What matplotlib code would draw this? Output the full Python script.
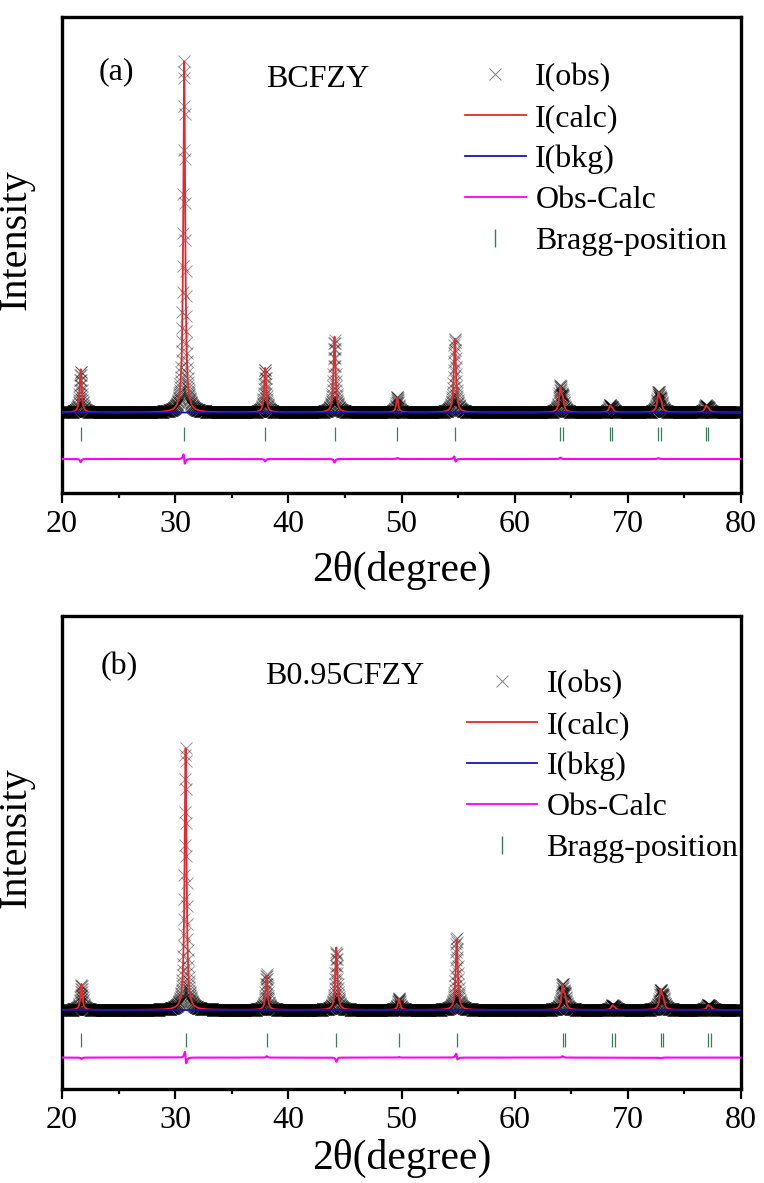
import numpy as np
import matplotlib
matplotlib.use('Agg')
import matplotlib.pyplot as plt
from matplotlib.lines import Line2D
from matplotlib.ticker import MultipleLocator

plt.rcParams['font.family'] = ['Liberation Serif', 'DejaVu Serif']

# ---------------- data ----------------
theta_min, theta_max, theta_step = 20.0, 80.0, 0.02

# panel (a) BCFZY
bragg_a = [21.65, 30.80, 37.95, 44.08, 49.63, 54.72, 64.03, 64.25,
           68.43, 68.63, 72.70, 72.92, 76.90, 77.12]
height_a = [1240, 10000, 1280, 2160, 410, 2100, 655, 328,
            177, 88, 505, 252, 177, 88]
fwhm_a = [0.20, 0.20, 0.20, 0.21, 0.22, 0.22, 0.24, 0.24,
          0.25, 0.25, 0.26, 0.26, 0.27, 0.27]
diff_sym_a = [-90, 0, -70, -100, 30, 0, 40, 0, 0, 0, 25, 0, 0, 0]
diff_asym_a = [0, 200, 0, 0, 0, 110, 0, 0, 0, 0, 0, 0, 0, 0]
bkg_a = 0.0
diff_offset_a = -1325
tick_lo_a, tick_hi_a = -809, -405
ylim_a = (-2293, 11282)

# panel (b) B0.95CFZY
bragg_b = [21.72, 30.92, 38.08, 44.24, 49.78, 54.88, 64.23, 64.45,
           68.63, 68.83, 72.90, 73.12, 77.10, 77.32]
height_b = [740, 7460, 970, 1780, 315, 2010, 640, 320,
            115, 58, 530, 265, 124, 62]
fwhm_b = fwhm_a
diff_sym_b = [-40, 0, 40, -120, 15, 40, 40, 0, 0, 0, -20, 0, 0, 0]
diff_asym_b = [0, 250, 0, 0, 0, 120, 0, 0, 0, 0, 0, 0, 0, 0]
bkg_b = 0.0
diff_offset_b = -1356
tick_lo_b, tick_hi_b = -1051, -647
ylim_b = (-2251, 11225)

labels_panel = ['(a)', '(b)']
sample_names = ['BCFZY', 'B0.95CFZY']
legend_labels = ['I(obs)', 'I(calc)', 'I(bkg)', 'Obs-Calc', 'Bragg-position']
xticks = [20, 30, 40, 50, 60, 70, 80]

C_RED = '#e8282c'
C_BLUE = '#1414b4'
C_MAG = '#ff00ff'
C_GREEN = '#3a7d58'


def pattern(pos, hgt, wid, dsym, dasym, bkg):
    x = np.arange(theta_min, theta_max + 1e-9, theta_step)
    calc = np.full_like(x, bkg)
    diff = np.zeros_like(x)
    for p, h, w, s, a in zip(pos, hgt, wid, dsym, dasym):
        u = (x - p) / (w / 2.0)
        lor = 1.0 / (1.0 + u ** 2)
        calc += h * lor
        diff += s * lor ** 1.5 - a * u * lor ** 2 * 2.0
    obs = calc + diff
    return x, obs, calc, np.full_like(x, bkg), diff


fig = plt.figure(figsize=(7.64, 11.83), dpi=100)
W, H = 764.0, 1183.0
ax_a = fig.add_axes([62 / W, (H - 493) / H, 679 / W, 476.5 / H])
ax_b = fig.add_axes([62 / W, (H - 1089) / H, 679 / W, 473 / H])

panels = [
    (ax_a, bragg_a, height_a, fwhm_a, diff_sym_a, diff_asym_a, bkg_a,
     diff_offset_a, tick_lo_a, tick_hi_a, ylim_a,
     (0.0795, 0.8835), (0.377, 0.867), (0.5935, 0.902), 1.9, 9),
    (ax_b, bragg_b, height_b, fwhm_b, diff_sym_b, diff_asym_b, bkg_b,
     diff_offset_b, tick_lo_b, tick_hi_b, ylim_b,
     (0.084, 0.894), (0.417, 0.873), (0.596, 0.886), 2.2, 3),
]

for i, (ax, pos, hgt, wid, dsym, dasym, bkg, doff, tlo, thi, ylim,
        lab_xy, name_xy, leg_xy, hlen, xlpad) in enumerate(panels):
    x, obs, calc, bk, diff = pattern(pos, hgt, wid, dsym, dasym, bkg)
    ax.plot(x, obs, ls='none', marker='x', color='k', alpha=0.42,
            ms=8, mew=0.7, zorder=2)
    ax.plot(x, calc, color=C_RED, lw=1.3, zorder=3)
    ax.plot(x, bk, color=C_BLUE, lw=1.3, zorder=4)
    ax.plot(x, diff + doff, color=C_MAG, lw=1.5, zorder=3)
    ax.vlines(pos, tlo, thi, color=C_GREEN, lw=0.9, zorder=3)

    ax.set_xlim(theta_min, theta_max)
    ax.set_ylim(*ylim)
    ax.set_xticks(xticks)
    ax.xaxis.set_minor_locator(MultipleLocator(5))
    ax.set_yticks([])
    ax.tick_params(axis='x', which='major', direction='out', length=7,
                   width=1.6, labelsize=23, pad=5)
    ax.tick_params(axis='x', which='minor', direction='out', length=3.5,
                   width=1.6)
    for sp in ax.spines.values():
        sp.set_linewidth(2.4)
    ax.set_xlabel('2\u03b8(degree)', fontsize=30, labelpad=xlpad)
    ax.set_ylabel('Intensity', fontsize=29)
    ax.yaxis.set_label_coords(-0.0398, 0.531)

    ax.text(lab_xy[0], lab_xy[1], labels_panel[i], transform=ax.transAxes,
            ha='center', va='center', fontsize=23)
    ax.text(name_xy[0], name_xy[1], sample_names[i], transform=ax.transAxes,
            ha='center', va='center', fontsize=23)

    handles = [
        Line2D([], [], ls='none', marker='x', color='gray', ms=8, mew=0.7),
        Line2D([], [], color=C_RED, lw=1.3),
        Line2D([], [], color=C_BLUE, lw=1.3),
        Line2D([], [], color=C_MAG, lw=1.3),
        Line2D([], [], ls='none', marker='|', color=C_GREEN, ms=13, mew=1.0),
    ]
    ax.legend(handles, legend_labels, loc='upper left',
              bbox_to_anchor=leg_xy, frameon=False, fontsize=23,
              borderpad=0, borderaxespad=0, labelspacing=0.36,
              handlelength=hlen, handletextpad=0.3)

fig.savefig('out.png', dpi=100)
